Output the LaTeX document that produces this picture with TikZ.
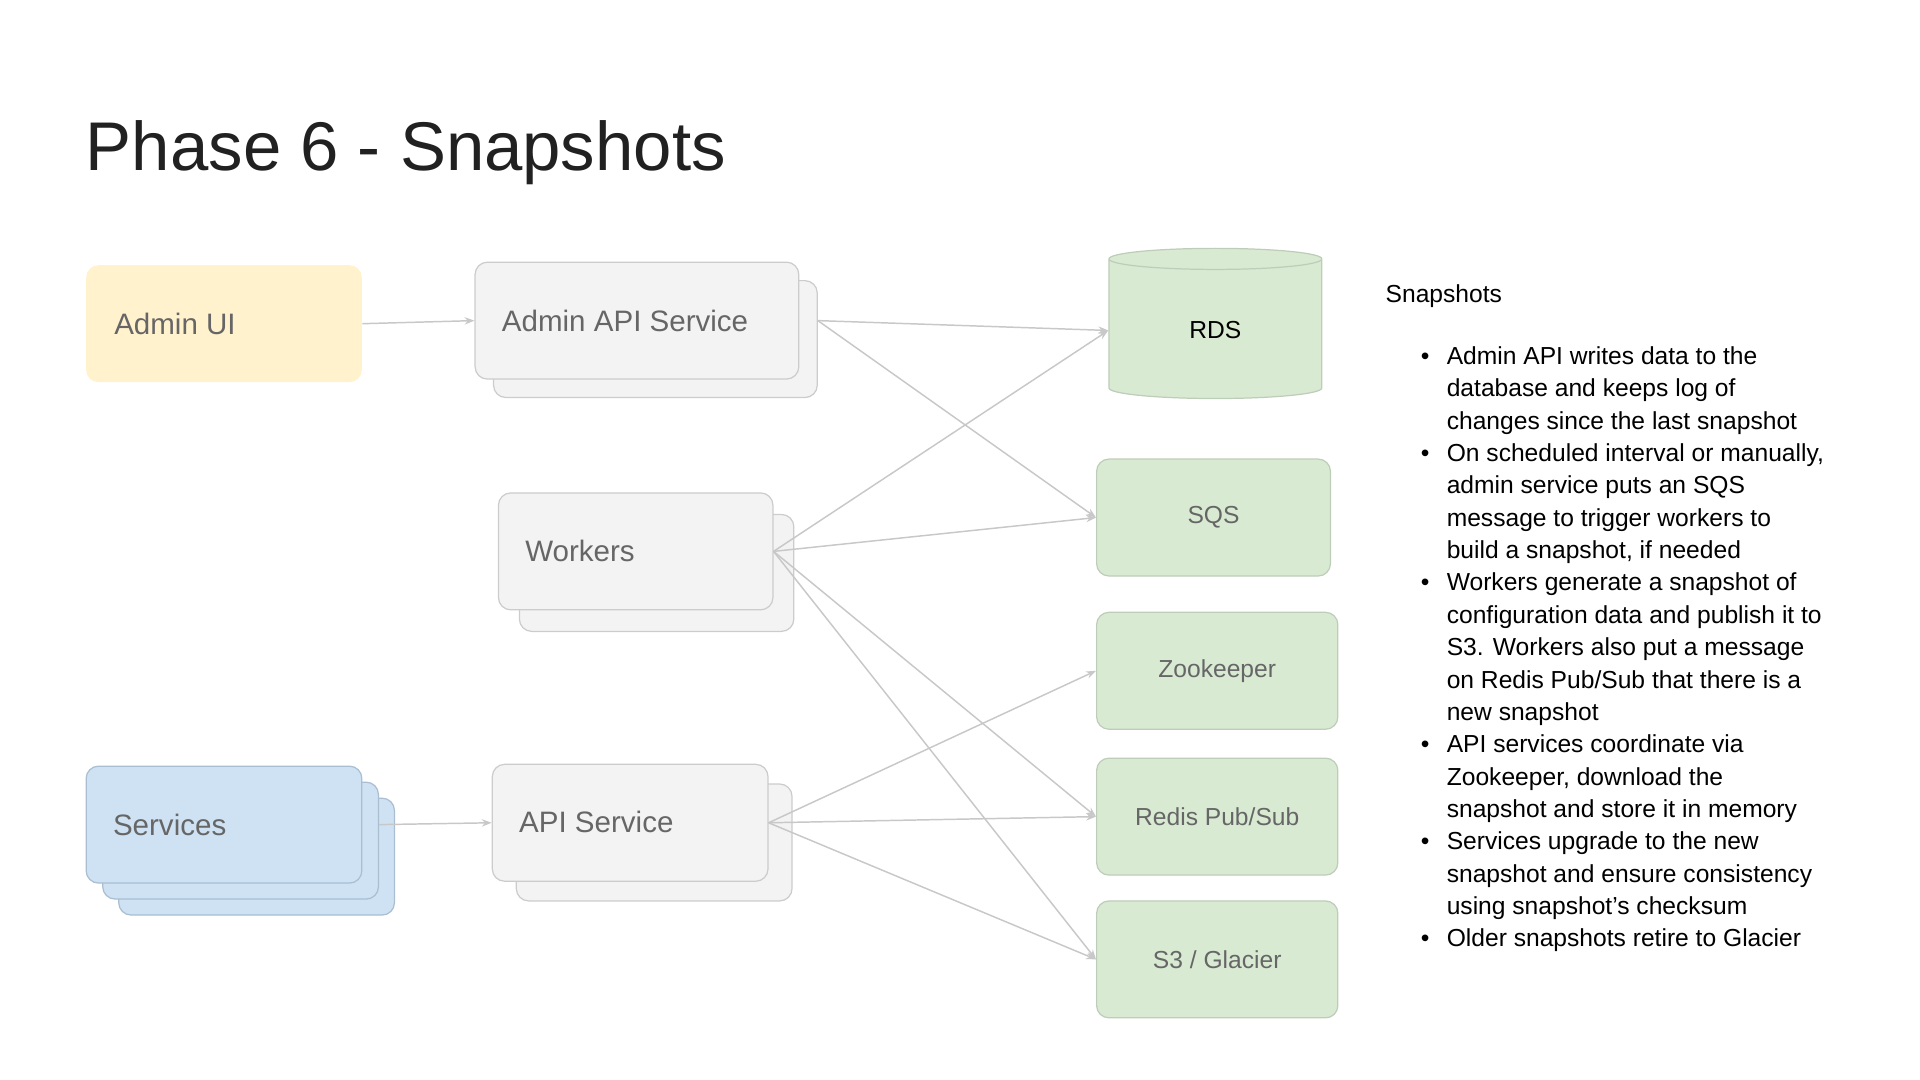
\documentclass[tikz,border=0pt]{standalone}
\usepackage{fontspec}
\setmainfont{Liberation Sans}
\usetikzlibrary{positioning,shapes.geometric,arrows.meta}
\definecolor{boxgray}{RGB}{243,243,243}
\definecolor{linegray}{RGB}{204,204,204}
\definecolor{txtgray}{RGB}{102,102,102}
\definecolor{uiyellow}{RGB}{255,242,204}
\definecolor{svcblue}{RGB}{207,226,243}
\definecolor{svcline}{RGB}{170,190,210}
\definecolor{stgreen}{RGB}{217,234,211}
\definecolor{stline}{RGB}{190,205,185}
\definecolor{arrgray}{RGB}{200,200,200}
\tikzset{every picture/.style={line width=1pt}}
\tikzset{
  svcbox/.style={draw=linegray, fill=boxgray, rounded corners=10pt, minimum width=224pt, minimum height=95pt, text=txtgray, font=\fontsize{24}{28}\selectfont, align=left},
  storebox/.style={draw=stline, fill=stgreen, rounded corners=10pt, minimum height=95pt, text=txtgray, font=\fontsize{20}{24}\selectfont},
  conn/.style={draw=arrgray, line width=1.2pt, -{Stealth[length=8pt,width=6pt]}}
}
\begin{document}
\begin{tikzpicture}[x=1pt,y=-1pt]
\useasboundingbox (0,0) rectangle (1560,877.5);

% title
\node (title) [anchor=west, font=\fontsize{56}{60}\selectfont, text={rgb,255:red,33;green,33;blue,33}] at (66,124) {Phase 6 - Snapshots};

% admin side
\node (adminui) [svcbox, draw=none, fill=uiyellow] at (182,263) {};
\node [anchor=west, text=txtgray, font=\fontsize{24}{28}\selectfont] at (89,263) {Admin UI};
\node (adminapiback) [svcbox, minimum width=263pt] at (532.5,275.5) {};
\node (adminapi) [svcbox, minimum width=263pt] at (517.5,260.5) {};
\node [anchor=west, text=txtgray, font=\fontsize{24}{28}\selectfont] at (404,261) {Admin API Service};

% workers
\node (workersback) [svcbox, minimum width=223pt] at (533.5,465.5) {};
\node (workers) [svcbox, minimum width=223pt] at (516.5,448) {};
\node [anchor=west, text=txtgray, font=\fontsize{24}{28}\selectfont] at (423,448) {Workers};

% services
\node (svc3) [svcbox, draw=svcline, fill=svcblue] at (208.5,696) {};
\node (svc2) [svcbox, draw=svcline, fill=svcblue] at (195.5,683) {};
\node (services) [svcbox, draw=svcline, fill=svcblue] at (182,670) {};
\node [anchor=west, text=txtgray, font=\fontsize{24}{28}\selectfont] at (88,670) {Services};

% api service
\node (apiback) [svcbox] at (531.5,684.5) {};
\node (api) [svcbox] at (512,668.5) {};
\node [anchor=west, text=txtgray, font=\fontsize{24}{28}\selectfont] at (418,668) {API Service};

% stores
\node (rds) [cylinder, shape border rotate=90, aspect=0.35, draw=stline, fill=stgreen, minimum width=173pt, minimum height=122pt, font=\fontsize{20}{24}\selectfont] at (987.5,268.5) {RDS};
\node (sqs) [storebox, minimum width=190pt] at (986,420.5) {SQS};
\node (zk) [storebox, minimum width=196pt] at (989,545) {Zookeeper};
\node (redis) [storebox, minimum width=196pt] at (989,663.5) {Redis Pub/Sub};
\node (s3) [storebox, minimum width=196pt] at (989,779.5) {S3 / Glacier};

% connectors
\draw [conn] (adminui.east) -- (adminapi.west);
\draw [conn] (adminapiback.east |- adminapi.east) -- (rds.west);
\draw [conn] (adminapiback.east |- adminapi.east) -- (sqs.west);
\draw [conn] (workers.east) -- (rds.west);
\draw [conn] (workers.east) -- (sqs.west);
\draw [conn] (workers.east) -- (redis.west);
\draw [conn] (workers.east) -- (s3.west);
\draw [conn] (svc2.east |- services.east) -- (api.west);
\draw [conn] (api.east) -- (zk.west);
\draw [conn] (api.east) -- (redis.west);
\draw [conn] (api.east) -- (s3.west);

% notes
\node (notehead) [anchor=west, font=\fontsize{20}{24}\selectfont] at (1122,241) {Snapshots};
\newcommand{\bul}{\makebox[47pt][l]{\hspace*{26pt}•}}
\newcommand{\ind}{\hspace*{47pt}}
\node (notes) [anchor=north west, inner sep=0pt, align=left, font=\fontsize{20}{26.3}\selectfont] at (1128,281) {%
\bul Admin API writes data to the\\
\ind database and keeps log of\\
\ind changes since the last snapshot\\
\bul On scheduled interval or manually,\\
\ind admin service puts an SQS\\
\ind message to trigger workers to\\
\ind build a snapshot, if needed\\
\bul Workers generate a snapshot of\\
\ind configuration data and publish it to\\
\ind S3. Workers also put a message\\
\ind on Redis Pub/Sub that there is a\\
\ind new snapshot\\
\bul API services coordinate via\\
\ind Zookeeper, download the\\
\ind snapshot and store it in memory\\
\bul Services upgrade to the new\\
\ind snapshot and ensure consistency\\
\ind using snapshot’s checksum\\
\bul Older snapshots retire to Glacier};
\end{tikzpicture}
\end{document}
